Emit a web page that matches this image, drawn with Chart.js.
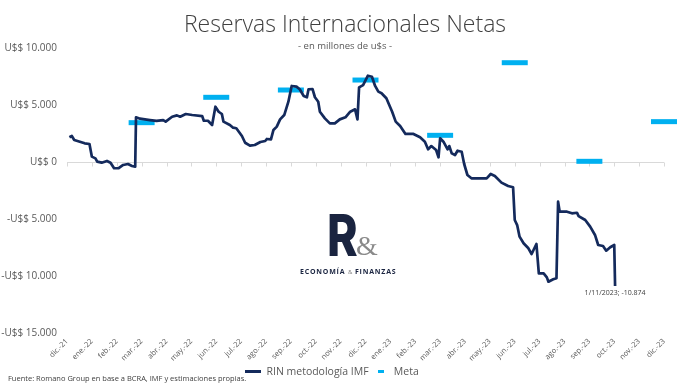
<!DOCTYPE html>
<html>
<head>
<meta charset="utf-8">
<script src="https://cdn.jsdelivr.net/npm/chart.js@4.4.0/dist/chart.umd.min.js"></script>
<style>
  html, body { margin: 0; padding: 0; background: #fff; }
  #wrap { position: relative; width: 690px; height: 387px; overflow: hidden; }
  #chart { position: absolute; left: 0; top: 0; }
  .logo-r { position: absolute; left: 327px; top: 206px; font: 800 58px 'Inter', sans-serif; color: #1a2440; line-height: 1; transform: scaleX(0.8); transform-origin: left top; }
  .logo-amp { position: absolute; left: 356px; top: 232px; font: 400 28px 'Liberation Serif', serif; color: #8a8a8a; line-height: 1; }
  .logo-tag { position: absolute; left: 300px; top: 268px; font: 700 7px 'Open Sans', sans-serif; color: #1a2440; letter-spacing: 0.8px; line-height: 1; white-space: nowrap; }
  .logo-tag small { font-size: 6px; font-weight: 400; color: #7a7a7a; letter-spacing: 0; }
  .fuente { position: absolute; left: 8px; top: 373px; font: 400 7.5px 'Open Sans', sans-serif; color: #404040; white-space: nowrap; }
</style>
</head>
<body>
<div id="wrap">
  <canvas id="chart" width="690" height="387"></canvas>
  <div class="logo-r">R</div>
  <div class="logo-amp">&amp;</div>
  <div class="logo-tag">ECONOMÍA <small>&amp;</small> FINANZAS</div>
  <div class="fuente">Fuente: Romano Group en base a BCRA, IMF y estimaciones propias.</div>
</div>
<script>
// etiquetas del eje x (fin de cada mes)
const monthLabels = ['dic.-21', 'ene.-22', 'feb.-22', 'mar.-22', 'abr.-22', 'may.-22', 'jun.-22', 'jul.-22',
  'ago.-22', 'sep.-22', 'oct.-22', 'nov.-22', 'dic.-22', 'ene.-23', 'feb.-23', 'mar.-23', 'abr.-23',
  'may.-23', 'jun.-23', 'jul.-23', 'ago.-23', 'sep.-23', 'oct.-23', 'nov.-23', 'dic.-23'];

// RIN metodología IMF (millones de u$s)
const rinDates = ['2022-01-03', '2022-01-06', '2022-01-09', '2022-01-16', '2022-01-22', '2022-01-28', '2022-01-31',
  '2022-02-04', '2022-02-06', '2022-02-11', '2022-02-17', '2022-02-21', '2022-02-25', '2022-03-02', '2022-03-08',
  '2022-03-14', '2022-03-19', '2022-03-23', '2022-03-24', '2022-03-29', '2022-04-10', '2022-04-18', '2022-04-26',
  '2022-04-29', '2022-05-07', '2022-05-13', '2022-05-17', '2022-05-24', '2022-06-01', '2022-06-13', '2022-06-15',
  '2022-06-20', '2022-06-25', '2022-06-29', '2022-07-03', '2022-07-07', '2022-07-09', '2022-07-17', '2022-07-21',
  '2022-07-25', '2022-08-01', '2022-08-05', '2022-08-11', '2022-08-17', '2022-08-24', '2022-08-30', '2022-09-01',
  '2022-09-06', '2022-09-09', '2022-09-13', '2022-09-17', '2022-09-22', '2022-09-27', '2022-10-01', '2022-10-07',
  '2022-10-11', '2022-10-16', '2022-10-20', '2022-10-22', '2022-10-27', '2022-10-30', '2022-11-03', '2022-11-05',
  '2022-11-11', '2022-11-17', '2022-11-23', '2022-11-29', '2022-12-06', '2022-12-12', '2022-12-18', '2022-12-21',
  '2022-12-23', '2022-12-28', '2023-01-03', '2023-01-08', '2023-01-12', '2023-01-16', '2023-01-20', '2023-01-26',
  '2023-02-02', '2023-02-06', '2023-02-11', '2023-02-17', '2023-02-26', '2023-03-06', '2023-03-12', '2023-03-16',
  '2023-03-20', '2023-03-26', '2023-03-29', '2023-03-31', '2023-04-04', '2023-04-09', '2023-04-11', '2023-04-14',
  '2023-04-18', '2023-04-21', '2023-04-26', '2023-04-29', '2023-05-03', '2023-05-08', '2023-05-27', '2023-06-01',
  '2023-06-06', '2023-06-14', '2023-06-22', '2023-06-28', '2023-06-30', '2023-07-03', '2023-07-06', '2023-07-11',
  '2023-07-17', '2023-07-21', '2023-07-27', '2023-07-30', '2023-08-05', '2023-08-09', '2023-08-11', '2023-08-17',
  '2023-08-21', '2023-08-23', '2023-08-25', '2023-09-03', '2023-09-09', '2023-09-15', '2023-09-17', '2023-09-25',
  '2023-10-01', '2023-10-07', '2023-10-11', '2023-10-17', '2023-10-21', '2023-10-26', '2023-10-31', '2023-11-01'];
const rinValues = [2170, 2280, 1930, 1780, 1640, 1580, 470,
  320, 30, -60, 90, -60, -550, -550, -260,
  -175, -350, -410, 3920, 3800, 3680, 3600, 3680,
  3540, 3970, 4090, 3970, 4210, 4120, 4030, 3620,
  3620, 3250, 4850, 4410, 4210, 3540, 3250, 3010,
  2960, 2280, 1690, 1430, 1490, 1750, 1840, 2020,
  1990, 2810, 3100, 3740, 4120, 5290, 6670, 6610,
  6380, 5790, 5680, 6380, 6400, 5680, 5290, 4410,
  3830, 3390, 3390, 3740, 3920, 4410, 4620, 3740,
  6550, 6750, 7570, 7480, 6670, 6170, 6030, 5590,
  4410, 3540, 3160, 2460, 2460, 2170, 1780, 1110,
  1400, 1050, 410, 2080, 1780, 1110, 1400, 760,
  610, 990, 900, -175, -1140, -1430, -1430, -1050,
  -1230, -1810, -2110, -2220, -5090, -5530, -6550, -7130,
  -7570, -8070, -7190, -9770, -9770, -10120, -10500, -10290,
  -10200, -3480, -4360, -4360, -4500, -4450, -4740, -5090,
  -5670, -6400, -7280, -7370, -7780, -7480, -7280, -10874];

// metas trimestrales
const metaDates = ['2022-03-31', '2022-06-30', '2022-09-30', '2022-12-31', '2023-03-31', '2023-06-30', '2023-09-30', '2023-12-31'];
const metaValues = [3450, 5675, 6315, 7190, 2340, 8710, 60, 3540];

const yTicks = [-15000, -10000, -5000, 0, 5000, 10000];

const NAVY = '#142a5c';
const CELESTE = '#00b0f0';
const GRIS = '#595959';

// fecha -> posición en meses (0 = fin de dic.-21)
function monthPos(s) {
  const [y, m, d] = s.split('-').map(Number);
  const days = new Date(y, m, 0).getDate();
  return (y - 2022) * 12 + (m - 1) + d / days;
}

function fmtNum(v) {
  const abs = Math.abs(v).toString().replace(/\B(?=(\d{3})+(?!\d))/g, '.');
  return (v < 0 ? '-' : '') + abs;
}

function fmtUSD(v) {
  return (v < 0 ? '-' : '') + 'U$$ ' + fmtNum(Math.abs(v));
}

// marcas para la leyenda
function mark(w, h, color) {
  const c = document.createElement('canvas');
  c.width = w; c.height = h;
  const g = c.getContext('2d');
  g.fillStyle = color;
  g.fillRect(0, 0, w, h);
  return c;
}
const legendMarks = [mark(16, 3, NAVY), mark(6, 3, CELESTE)];

// título y subtítulo
const titlesPlugin = {
  id: 'titles',
  afterDraw(chart) {
    const ctx = chart.ctx;
    ctx.save();
    ctx.textAlign = 'center';
    ctx.textBaseline = 'alphabetic';
    ctx.fillStyle = '#404040';
    ctx.font = '300 23px "Open Sans", sans-serif';
    ctx.fillText('Reservas Internacionales Netas', 345, 32);
    ctx.fillStyle = GRIS;
    ctx.font = '400 9.5px "Open Sans", sans-serif';
    ctx.fillText('- en millones de u$s -', 345, 49);
    ctx.restore();
  }
};

// línea del cero con marcas
const zeroAxisPlugin = {
  id: 'zeroAxis',
  beforeDatasetsDraw(chart) {
    const { ctx, scales: { x, y } } = chart;
    const y0 = Math.round(y.getPixelForValue(0)) + 0.5;
    ctx.save();
    ctx.strokeStyle = '#d9d9d9';
    ctx.lineWidth = 1;
    ctx.beginPath();
    ctx.moveTo(x.left, y0);
    ctx.lineTo(x.right, y0);
    monthLabels.forEach((_, i) => {
      const px = Math.round(x.getPixelForValue(i)) + 0.5;
      ctx.moveTo(px, y0);
      ctx.lineTo(px, y0 + 4);
    });
    ctx.stroke();
    ctx.restore();
  }
};

// etiqueta del último dato
const lastLabelPlugin = {
  id: 'lastLabel',
  afterDatasetsDraw(chart) {
    const meta = chart.getDatasetMeta(0);
    const pt = meta.data[meta.data.length - 1];
    if (!pt) return;
    const ctx = chart.ctx;
    const d = rinDates[rinDates.length - 1].split('-').map(Number);
    const txt = `${d[2]}/${d[1]}/${d[0]}; ${fmtNum(rinValues[rinValues.length - 1])}`;
    ctx.save();
    ctx.font = '400 7px "Open Sans", sans-serif';
    ctx.fillStyle = '#404040';
    ctx.textAlign = 'center';
    ctx.textBaseline = 'middle';
    ctx.fillText(txt, pt.x, pt.y + 7);
    ctx.restore();
  }
};

new Chart(document.getElementById('chart'), {
  type: 'line',
  data: {
    datasets: [{
      label: 'RIN metodología IMF',
      data: rinDates.map((d, i) => ({ x: monthPos(d), y: rinValues[i] })),
      borderColor: NAVY,
      backgroundColor: NAVY,
      borderWidth: 2.7,
      pointRadius: 0,
      tension: 0,
      borderJoinStyle: 'round',
    }, {
      type: 'scatter',
      label: 'Meta',
      data: metaDates.map((d, i) => ({ x: monthPos(d), y: metaValues[i] })),
      borderColor: CELESTE,
      backgroundColor: CELESTE,
      pointStyle: 'line',
      pointRadius: 13,
      pointBorderWidth: 5,
      pointHoverRadius: 13,
      clip: false,
    }],
  },
  options: {
    responsive: false,
    animation: false,
    events: [],
    layout: { padding: { top: 48, right: 26, left: 0, bottom: 0 } },
    plugins: {
      title: { display: false },
      tooltip: { enabled: false },
      legend: {
        position: 'bottom',
        labels: {
          usePointStyle: true,
          pointStyleWidth: 16,
          padding: 4,
          color: GRIS,
          font: { family: 'Open Sans', size: 10.5 },
          generateLabels: chart => chart.data.datasets.map((ds, i) => ({
            text: ds.label,
            pointStyle: legendMarks[i],
            fillStyle: ds.borderColor,
            strokeStyle: ds.borderColor,
            lineWidth: 0,
            fontColor: GRIS,
            hidden: false,
            datasetIndex: i,
          })),
        },
      },
    },
    scales: {
      x: {
        type: 'linear',
        min: 0,
        max: monthLabels.length - 1,
        grid: { display: false, drawTicks: false },
        border: { display: false },
        ticks: {
          stepSize: 1,
          autoSkip: false,
          minRotation: 45,
          maxRotation: 45,
          padding: 4,
          color: GRIS,
          font: { family: 'Open Sans', size: 7.5 },
          callback: v => monthLabels[v],
        },
        afterFit: scale => { scale.height = 54 - (scale.chart.legend ? scale.chart.legend.height : 24); },
      },
      y: {
        min: yTicks[0],
        max: yTicks[yTicks.length - 1],
        grid: { display: false, drawTicks: false },
        border: { display: false },
        afterBuildTicks: scale => { scale.ticks = yTicks.map(v => ({ value: v })); },
        ticks: {
          padding: 10,
          color: GRIS,
          font: { family: 'Open Sans', size: 10 },
          callback: v => fmtUSD(v),
        },
        afterFit: scale => { scale.width = 67; },
      },
    },
  },
  plugins: [titlesPlugin, zeroAxisPlugin, lastLabelPlugin],
});
</script>
</body>
</html>
